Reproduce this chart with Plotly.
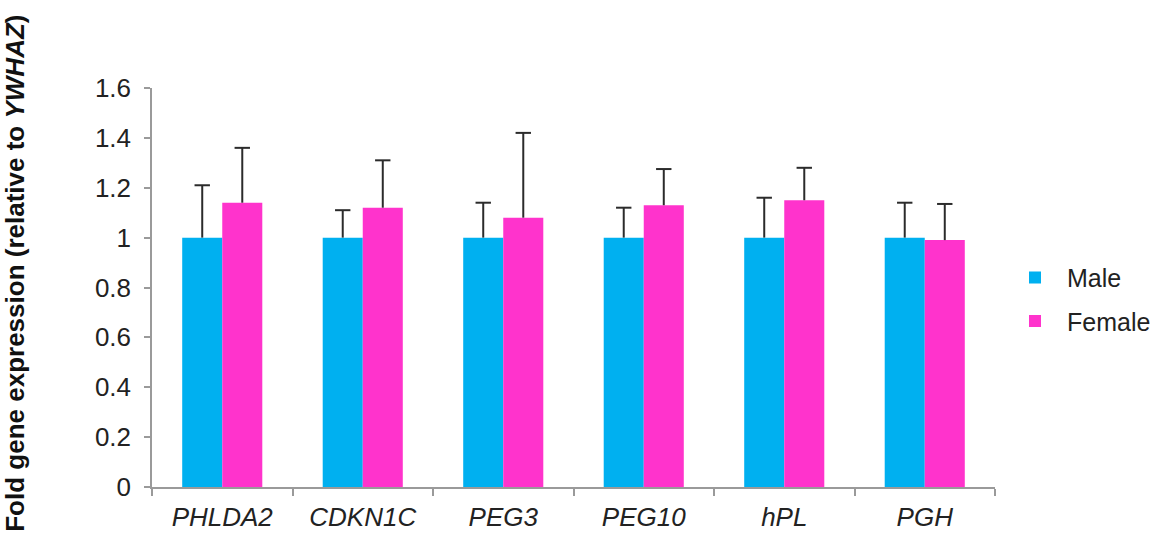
import plotly.graph_objects as go

genes = ["PHLDA2", "CDKN1C", "PEG3", "PEG10", "hPL", "PGH"]
male = [1.0, 1.0, 1.0, 1.0, 1.0, 1.0]
male_err = [0.21, 0.11, 0.14, 0.12, 0.16, 0.14]
female = [1.14, 1.12, 1.08, 1.13, 1.15, 0.99]
female_err = [0.22, 0.19, 0.34, 0.145, 0.13, 0.145]

MALE_C = "#00B0F0"
FEMALE_C = "#FF33CC"
ERR_C = "#2b2b2b"
AXIS_C = "#9a9a9a"
FONT = "Liberation Sans, Arial, sans-serif"

fig = go.Figure()
for name, vals, col in [("Male", male, MALE_C), ("Female", female, FEMALE_C)]:
    fig.add_trace(go.Bar(
        x=genes, y=vals, name=name, marker=dict(color=col, line=dict(width=0)),
        offsetgroup=name, legendgroup=name, hoverinfo="skip",
    ))
for name, vals, errs in [("Male", male, male_err), ("Female", female, female_err)]:
    tops = [v + e for v, e in zip(vals, errs)]
    fig.add_trace(go.Scatter(
        x=genes, y=tops, mode="markers", offsetgroup=name, showlegend=False,
        marker=dict(symbol="line-ew", size=11, color=ERR_C,
                    line=dict(color=ERR_C, width=2)),
        error_y=dict(type="data", symmetric=False, array=[0] * len(tops),
                     arrayminus=errs, width=0, thickness=2, color=ERR_C),
        hoverinfo="skip",
    ))

W, H = 1163, 538
L, T = 152, 88
R = W - 995
B = H - 487.5
pw, ph = W - L - R, H - T - B

fig.update_layout(
    width=W, height=H,
    margin=dict(l=L, r=R, t=T, b=B, autoexpand=False),
    paper_bgcolor="white", plot_bgcolor="white",
    barmode="group", bargap=0.43, bargroupgap=0,
    scattermode="group", scattergap=0.43,
    font=dict(family=FONT, color="#222222", size=24),
    showlegend=True,
    legend=dict(x=(1003 - L) / pw, y=(H - B - 255) / ph, xanchor="left", yanchor="top",
                font=dict(size=25, family=FONT, color="#222222"),
                tracegroupgap=8, bgcolor="rgba(0,0,0,0)", itemwidth=54),
    xaxis=dict(
        showline=True, linecolor=AXIS_C, linewidth=1.5,
        ticks="outside", tickson="boundaries", ticklen=7, tickcolor=AXIS_C, tickwidth=1.5,
        tickfont=dict(size=26, style="italic", family=FONT, color="#222222"),
        ticklabelstandoff=6,
        showgrid=False, zeroline=False,
    ),
    yaxis=dict(
        range=[0, 1.6], dtick=0.2, tick0=0,
        showline=True, linecolor=AXIS_C, linewidth=1.5,
        ticks="outside", ticklen=6, tickcolor=AXIS_C, tickwidth=1.5,
        tickfont=dict(size=26, family=FONT, color="#222222"),
        ticklabelstandoff=8,
        showgrid=False, zeroline=False,
    ),
    annotations=[dict(
        text="<b>Fold gene expression (relative to <i>YWHAZ</i>)</b>",
        textangle=-90, xref="paper", yref="paper",
        x=(15 - L) / pw, y=(H - B - 274) / ph, xanchor="center", yanchor="middle",
        showarrow=False, font=dict(size=26, family=FONT, color="#111111"),
    )],
)

fig.write_html("out.html", config={"displayModeBar": False},
               post_script="document.body.style.margin='0';")
